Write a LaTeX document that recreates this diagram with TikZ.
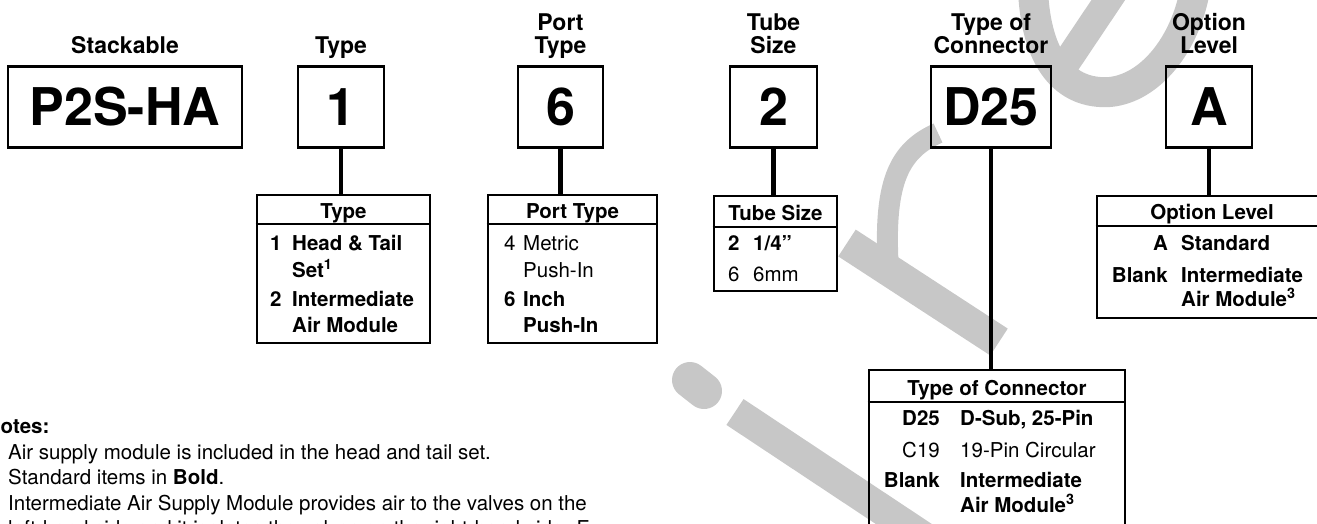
\documentclass[tikz,border=0pt]{standalone}
\usepackage{fontspec}
\setmainfont{TeX Gyre Heros}
\tikzset{
  codebox/.style={
    draw,
    line width=2.5pt,
    inner sep=0pt,
    minimum height=81pt,
    font=\fontsize{52}{52}\selectfont\bfseries
  },
  codelabel/.style={anchor=base, inner sep=0pt, font=\fontsize{23}{23}\selectfont\bfseries},
  tabbox/.style={draw, line width=2.6pt, inner sep=0pt},
  tabline/.style={line width=2pt},
  tabhead/.style={anchor=base, inner sep=0pt, font=\fontsize{20.5}{24}\selectfont\bfseries},
  tabtext/.style={anchor=base west, inner sep=0pt, font=\fontsize{20.5}{24}\selectfont},
  tabkey/.style={anchor=base east, inner sep=0pt, font=\fontsize{20.5}{24}\selectfont},
  conn/.style={line width=4.5pt},
  wmark/.style={draw=black!22}
}

\begin{document}
\begin{tikzpicture}[x=1pt,y=-1pt]
    \useasboundingbox (0,0) rectangle (1317,523);

    % watermark
    \draw[wmark, line width=36pt, line cap=round] (690,380) -- (704,391);
    \draw[wmark, line width=31pt] (735,412) -- (940,548);
    \draw[wmark, line width=32pt] (847,243) -- (999,342);
    \draw[wmark, line width=21pt] (888,262) .. controls (884,180) and (900,150) .. (938,133);
    \draw[wmark, line width=30pt] (1033,-10) .. controls (1036,60) and (1065,95) .. (1110,92)
        .. controls (1150,88) and (1185,45) .. (1195,-10);
    \draw[wmark, line width=28pt] (1058,75) -- (1115,-10);

    % code labels
    \node[codelabel] (lstack) at (125,53) {Stackable};
    \node[codelabel] (ltype) at (341,53) {Type};
    \node[codelabel] (lporta) at (560.5,30) {Port};
    \node[codelabel] (lportb) at (560.5,53) {Type};
    \node[codelabel] (ltubea) at (773.5,30) {Tube};
    \node[codelabel] (ltubeb) at (773.5,53) {Size};
    \node[codelabel] (lconna) at (991,30) {Type of};
    \node[codelabel] (lconnb) at (991,53) {Connector};
    \node[codelabel] (lopta) at (1209,30) {Option};
    \node[codelabel] (loptb) at (1209,53) {Level};

    % code boxes
    \node[codebox, minimum width=234pt] (bstack) at (125,107) {P2S-HA};
    \node[codebox, minimum width=86pt] (btype) at (341,107) {1};
    \node[codebox, minimum width=85pt] (bport) at (560.5,107) {6};
    \node[codebox, minimum width=87pt] (btube) at (773.5,107) {2};
    \node[codebox, minimum width=120pt] (bconn) at (991,107) {D25};
    \node[codebox, minimum width=86pt] (bopt) at (1209,107) {A};

    % tables
    \node[tabbox, minimum width=173pt, minimum height=148pt] (ttype) at (343.5,269) {};
    \node[tabbox, minimum width=169pt, minimum height=148pt] (tport) at (572.5,269) {};
    \node[tabbox, minimum width=123pt, minimum height=95pt] (ttube) at (775.5,243.5) {};
    \node[tabbox, minimum width=230pt, minimum height=122pt] (topt) at (1212,257) {};
    \node[tabbox, minimum width=256pt, minimum height=190pt] (tconn) at (997,465) {};

    \draw[tabline] (ttype.west |- 0,224) -- (ttype.east |- 0,224);
    \draw[tabline] (tport.west |- 0,224) -- (tport.east |- 0,224);
    \draw[tabline] (ttube.west |- 0,227) -- (ttube.east |- 0,227);
    \draw[tabline] (topt.west |- 0,226) -- (topt.east |- 0,226);
    \draw[tabline] (tconn.west |- 0,402) -- (tconn.east |- 0,402);

    % connectors
    \draw[conn] (btype.south) -- (btype.south |- ttype.north);
    \draw[conn] (bport.south) -- (bport.south |- tport.north);
    \draw[conn] (btube.south) -- (btube.south |- ttube.north);
    \draw[conn] (bconn.south) -- (bconn.south |- tconn.north);
    \draw[conn] (bopt.south) -- (bopt.south |- topt.north);

    % type
    \node[tabhead] (htype) at (343.5,218) {Type};
    \node[tabtext] (ktypea) at (270,250) {\textbf{1}};
    \node[tabtext] (xtypea) at (292,250) {\textbf{Head \& Tail}};
    \node[tabtext] (xtypeb) at (292,277) {\textbf{Set\textsuperscript{1}}};
    \node[tabtext] (ktypeb) at (270,306) {\textbf{2}};
    \node[tabtext] (xtypec) at (292,306) {\textbf{Intermediate}};
    \node[tabtext] (xtyped) at (292,332) {\textbf{Air Module}};

    % port type
    \node[tabhead] (hport) at (572.5,218) {Port Type};
    \node[tabtext] (kporta) at (504,250) {4};
    \node[tabtext] (xporta) at (523,250) {Metric};
    \node[tabtext] (xportb) at (523,277) {Push-In};
    \node[tabtext] (kportb) at (504,306) {\textbf{6}};
    \node[tabtext] (xportc) at (523,306) {\textbf{Inch}};
    \node[tabtext] (xportd) at (523,332) {\textbf{Push-In}};

    % tube size
    \node[tabhead] (htube) at (775.5,220) {Tube Size};
    \node[tabtext] (ktubea) at (728,250) {\textbf{2}};
    \node[tabtext] (xtubea) at (753,250) {\textbf{1/4\symbol{34}}};
    \node[tabtext] (ktubeb) at (728,281) {6};
    \node[tabtext] (xtubeb) at (753,281) {6mm};

    % option level
    \node[tabhead] (hopt) at (1212,219) {Option Level};
    \node[tabkey] (kopta) at (1168,250) {\textbf{A}};
    \node[tabtext] (xopta) at (1181,250) {\textbf{Standard}};
    \node[tabkey] (koptb) at (1168,282) {\textbf{Blank}};
    \node[tabtext] (xoptb) at (1181,282) {\textbf{Intermediate}};
    \node[tabtext] (xoptc) at (1181,306) {\textbf{Air Module\textsuperscript{3}}};

    % type of connector
    \node[tabhead] (hconn) at (997,395) {Type of Connector};
    \node[tabkey] (kconna) at (940,425) {\textbf{D25}};
    \node[tabtext] (xconna) at (960,425) {\textbf{D-Sub, 25-Pin}};
    \node[tabkey] (kconnb) at (940,457) {C19};
    \node[tabtext] (xconnb) at (960,457) {19-Pin Circular};
    \node[tabkey] (kconnc) at (940,487) {\textbf{Blank}};
    \node[tabtext] (xconnc) at (960,487) {\textbf{Intermediate}};
    \node[tabtext] (xconnd) at (960,512) {\textbf{Air Module\textsuperscript{3}}};

    % notes
    \node[tabtext] (nhead) at (-14.5,433) {\textbf{Notes:}};
    \node[tabtext] (nonea) at (8,459) {Air supply module is included in the head and tail set.};
    \node[tabtext] (ntwoa) at (8,484) {Standard items in \textbf{Bold}.};
    \node[tabtext] (nthra) at (8,510) {Intermediate Air Supply Module provides air to the valves on the};
    \node[tabtext] (nthrb) at (8,535) {left-hand side and it isolates the valves on the right-hand side. F};
\end{tikzpicture}
\end{document}
